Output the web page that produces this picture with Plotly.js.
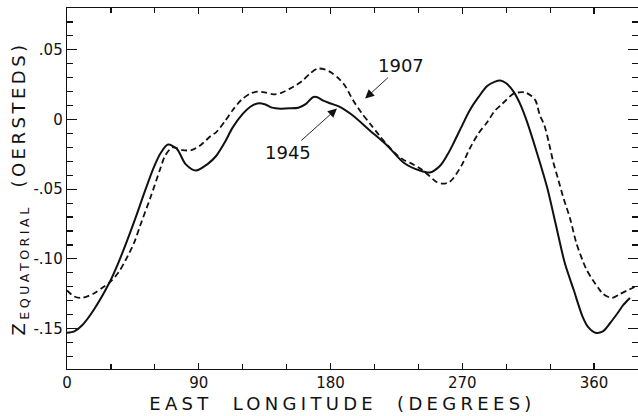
<!DOCTYPE html>
<html>
<head>
<meta charset="utf-8">
<script src="https://cdn.plot.ly/plotly-3.0.1.min.js"></script>
<style>
  html, body { margin: 0; padding: 0; background: #fff; overflow: hidden; }
  #chart { width: 640px; height: 416px; }
  .xtitle { letter-spacing: 4.3px; transform: translateX(-10px); }
  .ytitle { letter-spacing: 3.5px; }
</style>
</head>
<body>
<div id="chart"></div>
<script>
// Equatorial vertical field component vs. east longitude, 1945 (solid) and 1907 (dashed)
const lon1945 = [0, 5, 10, 18, 29, 35, 41, 47, 52, 59, 64, 69, 75, 81, 88, 96, 102, 108, 113, 120,
  125, 130, 135, 140, 146, 152, 158, 163, 168, 171, 175, 180, 186, 195, 207, 219, 230, 241, 248, 255,
  260, 264, 270, 275, 281, 287, 292, 296, 300, 305, 310, 314, 321, 328, 334, 340, 346, 352, 356, 361,
  366, 371, 376, 380, 384.5];
const z1945 = [-0.153, -0.152, -0.148, -0.137, -0.117, -0.103, -0.087, -0.070, -0.055, -0.035,
  -0.024, -0.018, -0.021, -0.032, -0.0366, -0.032, -0.026, -0.016, -0.006, 0.004,
  0.009, 0.0115, 0.011, 0.0085, 0.0078, 0.008, 0.0085, 0.011, 0.016, 0.016,
  0.0135, 0.0115, 0.0092, 0.003, -0.008, -0.019, -0.031, -0.0366, -0.038, -0.033,
  -0.025, -0.017, -0.004, 0.0065, 0.016, 0.024, 0.027, 0.028, 0.026, 0.020,
  0.010, -0.001, -0.024, -0.049, -0.076, -0.103, -0.122, -0.141, -0.149, -0.153,
  -0.152, -0.146, -0.139, -0.133, -0.128];

const lon1907 = [0, 5, 10, 18, 25, 29, 35, 40, 46, 50, 57, 63.5, 67, 72, 79, 85, 91, 98, 102, 108,
  113, 119, 125, 130, 135, 141, 146, 152, 157, 161, 166, 171, 176, 180, 186, 190, 195.5, 201, 207, 213,
  219, 225, 230, 236, 241, 247, 252.7, 257, 261, 264, 270, 275, 281, 287, 292, 296, 300, 305, 309, 313,
  317, 320, 323, 326, 329, 332, 335.5, 339, 343.6, 348, 352.5, 355, 359, 363, 366, 372, 378, 384, 390];
const z1907 = [-0.1226, -0.127, -0.128, -0.125, -0.120, -0.117, -0.110, -0.101, -0.088, -0.076,
  -0.056, -0.036, -0.026, -0.020, -0.022, -0.022, -0.0186, -0.012, -0.009, -0.001,
  0.0065, 0.014, 0.0186, 0.020, 0.0195, 0.018, 0.019, 0.022, 0.025, 0.028,
  0.033, 0.0365, 0.036, 0.034, 0.029, 0.024, 0.0136, 0.005, -0.003, -0.011,
  -0.0186, -0.025, -0.029, -0.032, -0.035, -0.040, -0.045, -0.046, -0.045, -0.042,
  -0.032, -0.021, -0.010, -0.002, 0.006, 0.010, 0.014, 0.0186, 0.0195, 0.0194,
  0.017, 0.0136, 0.003, -0.004, -0.016, -0.030, -0.043, -0.056, -0.071, -0.089,
  -0.102, -0.108, -0.115, -0.121, -0.125, -0.128, -0.125, -0.122, -0.119];

const xTickVals = [0, 90, 180, 270, 360];
const yTickVals = [-0.15, -0.10, -0.05, 0, 0.05];
const yTickText = ['-.15', '-.10', '-.05', '0', '.05'];

const FONT = 'DejaVu Sans, Arial, sans-serif';

const traces = [
  {
    x: lon1945, y: z1945, type: 'scatter', mode: 'lines', name: '1945',
    line: { color: '#111', width: 2, shape: 'spline', smoothing: 0.8 },
    hoverinfo: 'skip'
  },
  {
    x: lon1907, y: z1907, type: 'scatter', mode: 'lines', name: '1907',
    line: { color: '#111', width: 1.8, shape: 'spline', smoothing: 0.8, dash: '6px,3.5px' },
    hoverinfo: 'skip'
  }
];

const axisCommon = {
  showgrid: false, zeroline: false, showline: true, linecolor: '#111', linewidth: 1.3,
  mirror: 'ticks', ticks: 'inside', tickcolor: '#111', tickwidth: 1.2,
  tickfont: { family: FONT, size: 15, color: '#111' }
};

// Year labels sit at the arrow tail; the arrow points to its curve
const labelFont = { family: FONT, size: 18, color: '#111' };

const layout = {
  width: 640, height: 416,
  margin: { l: 67, r: 2, t: 8, b: 47 },
  paper_bgcolor: '#fff', plot_bgcolor: '#fff',
  showlegend: false,
  font: { family: FONT, color: '#111' },
  xaxis: Object.assign({}, axisCommon, {
    range: [0, 390],
    tickmode: 'array', tickvals: xTickVals,
    ticklen: 6,
    minor: { tickmode: 'linear', tick0: 0, dtick: 30, ticks: 'inside', ticklen: 5, tickcolor: '#111', tickwidth: 1.2 },
    title: { text: 'EAST\u00a0\u00a0LONGITUDE\u00a0\u00a0(DEGREES)', font: { family: FONT, size: 18, color: '#111' }, standoff: 6 }
  }),
  yaxis: Object.assign({}, axisCommon, {
    range: [-0.179, 0.08],
    tickmode: 'array', tickvals: yTickVals, ticktext: yTickText,
    ticklen: 10,
    minor: { tickmode: 'linear', tick0: 0, dtick: 0.01, ticks: 'inside', ticklen: 6, tickcolor: '#111', tickwidth: 1.2 },
    title: { text: 'Z<sub>EQUATORIAL\u00a0</sub>(OERSTEDS)', font: { family: FONT, size: 18, color: '#111' }, standoff: 3 }
  }),
  annotations: [
    { x: 203.6, y: 0.015, xref: 'x', yref: 'y', text: '1907', font: labelFont,
      showarrow: true, ax: 36, ay: -33, arrowhead: 2, arrowsize: 2, arrowwidth: 0.9, arrowcolor: '#111' },
    { x: 184.4, y: 0.0079, xref: 'x', yref: 'y', text: '1945', font: labelFont,
      showarrow: true, ax: -49, ay: 44, arrowhead: 2, arrowsize: 2, arrowwidth: 0.9, arrowcolor: '#111' }
  ]
};

Plotly.newPlot('chart', traces, layout, { staticPlot: true, displayModeBar: false }).then(function (gd) {
  gd.querySelectorAll('svg tspan').forEach(function (t) {
    // the subscript's baseline-reset span takes over the rest of the title text
    if (t.textContent === '\u200b') {
      let rest = '';
      while (t.nextSibling) { rest += t.nextSibling.textContent; t.parentNode.removeChild(t.nextSibling); }
      t.textContent = '\u00a0' + rest;
    }
  });
  // drop placeholder text nodes left empty (no chart title is used)
  gd.querySelectorAll('svg text').forEach(function (t) {
    if (!t.textContent.trim()) t.remove();
  });
});
</script>
</body>
</html>
